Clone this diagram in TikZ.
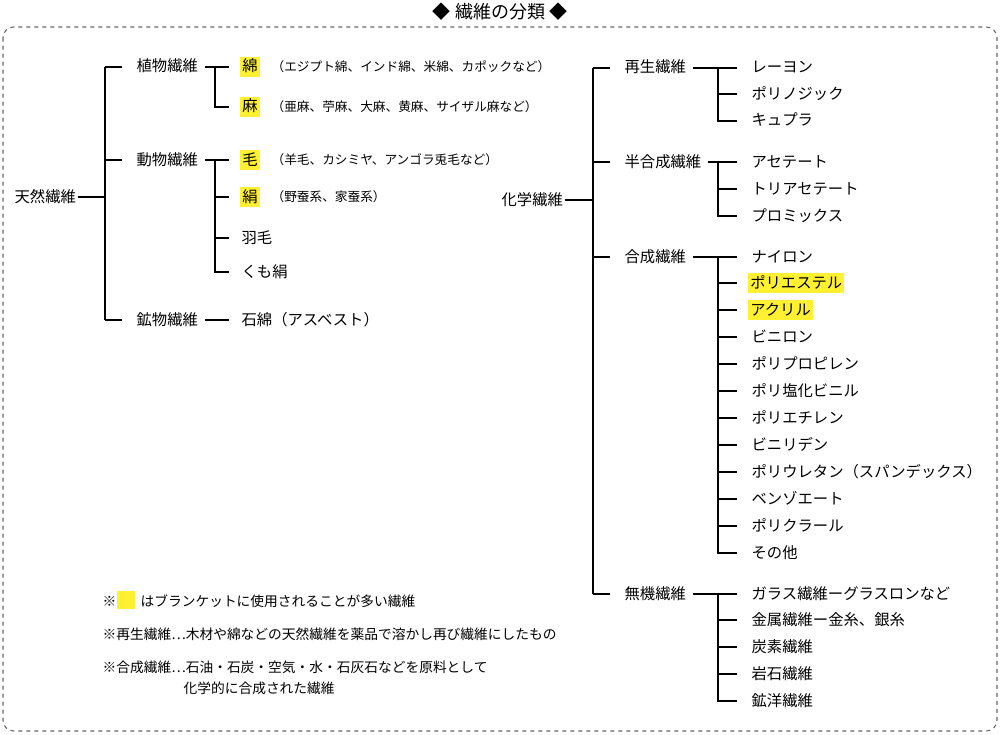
\documentclass[tikz,border=0pt]{standalone}
\usepackage{fontspec}
\setmainfont{Noto Sans CJK JP}
\begin{document}
\begin{tikzpicture}[x=0.75pt,y=-0.75pt,
  t/.style={anchor=west,inner sep=1pt,text height=9.5pt,text depth=2pt,font=\fontsize{11.5}{13}\selectfont},
  s/.style={anchor=west,inner sep=1pt,text height=8pt,text depth=1.5pt,font=\fontsize{9.5}{11}\selectfont},
  nt/.style={anchor=west,inner sep=1pt,font=\fontsize{10.3}{12}\selectfont},
  ln/.style={line width=0.9pt}]
\useasboundingbox (0,0) rectangle (1000,735);
\definecolor{hly}{RGB}{255,240,50}
\node[font=\fontsize{13.5}{15}\selectfont,inner sep=0] (title) at (500,12) {◆ 繊維の分類 ◆};
\draw[dashed,gray!80!black,rounded corners=8pt,line width=0.8pt] (3,27) rectangle (997,731);
% left
\node[t] (ten) at (13,197) {天然繊維};
\node[t] (sho) at (135,67) {植物繊維};
\node[t] (dou) at (135,160) {動物繊維};
\node[t] (kou) at (135,320) {鉱物繊維};
\draw[ln] (ten.east) -- (105,197);
\draw[ln] (105,67) -- (105,320);
\draw[ln] (105,67) -- ([xshift=-10]sho.west);
\draw[ln] (105,160) -- ([xshift=-10]dou.west);
\draw[ln] (105,320) -- ([xshift=-10]kou.west);
\node[t,fill=hly,inner sep=1.5pt] (men) at (240,67) {綿};
\node[s] at (270,67) {（エジプト綿、インド綿、米綿、カポックなど）};
\node[t,fill=hly,inner sep=1.5pt] (asa) at (240,107) {麻};
\node[s] at (270,107) {（亜麻、苧麻、大麻、黄麻、サイザル麻など）};
\node[t,fill=hly,inner sep=1.5pt] (ke) at (240,160) {毛};
\node[s] at (270,160) {（羊毛、カシミヤ、アンゴラ兎毛など）};
\node[t,fill=hly,inner sep=1.5pt] (kinu) at (240,197) {絹};
\node[s] at (270,197) {（野蚕系、家蚕系）};
\node[t] (hane) at (240,238) {羽毛};
\node[t] (kumo) at (240,272) {くも絹};
\node[t] (seki) at (240,320) {石綿（アスベスト）};
\draw[ln] ([xshift=4]sho.east) -- ([xshift=-8]men.west);
\draw[ln] (215,67) |- ([xshift=-8]asa.west);
\draw[ln] ([xshift=4]dou.east) -- ([xshift=-8]ke.west);
\draw[ln] (215,160) |- ([xshift=-8]kumo.west);
\draw[ln] (215,197) -- ([xshift=-8]kinu.west);
\draw[ln] (215,238) -- ([xshift=-8]hane.west);
\draw[ln] ([xshift=4]kou.east) -- ([xshift=-8]seki.west);
% right
\node[t] (kag) at (500,200) {化学繊維};
\node[t] (sai) at (623,68) {再生繊維};
\node[t] (han) at (623,162) {半合成繊維};
\node[t] (gou) at (623,257) {合成繊維};
\node[t] (muk) at (623,594) {無機繊維};
\draw[ln] (kag.east) -- (593,200);
\draw[ln] (593,68) -- (593,594);
\foreach \n in {sai,han,gou,muk} \draw[ln] (593,0|-\n.west) -- ([xshift=-10]\n.west);
\foreach \lab/\y/\nm in {レーヨン/68/a1,ポリノジック/94/a2,キュプラ/121/a3,
  アセテート/162/b1,トリアセテート/189/b2,プロミックス/216/b3,
  ナイロン/257/c1,ビニロン/337/c4,ポリプロピレン/364/c5,ポリ塩化ビニル/391/c6,ポリエチレン/418/c7,ビニリデン/445/c8,ポリウレタン（スパンデックス）/472/c9,ベンゾエート/499/c10,ポリクラール/526/c11,その他/553/c12,
  ガラス繊維ーグラスロンなど/594/d1,金属繊維ー金糸、銀糸/620/d2,炭素繊維/647/d3,岩石繊維/674/d4,鉱洋繊維/701/d5}
  \node[t] (\nm) at (750,\y) {\lab};
\node[t,fill=hly,inner sep=1.5pt] (c2) at (748,283) {ポリエステル};
\node[t,fill=hly,inner sep=1.5pt] (c3) at (748,310) {アクリル};
\draw[ln] ([xshift=4]sai.east) -- ([xshift=-10]a1.west);
\draw[ln] (718,68) |- ([xshift=-10]a3.west);
\draw[ln] (718,94) -- ([xshift=-10]a2.west);
\draw[ln] ([xshift=4]han.east) -- ([xshift=-10]b1.west);
\draw[ln] (718,162) |- ([xshift=-10]b3.west);
\draw[ln] (718,189) -- ([xshift=-10]b2.west);
\draw[ln] ([xshift=4]gou.east) -- ([xshift=-10]c1.west);
\draw[ln] (718,257) |- ([xshift=-10]c12.west);
\foreach \nm in {c4,c5,c6,c7,c8,c9,c10,c11} \draw[ln] (718,0|-\nm.west) -- ([xshift=-10]\nm.west);
\draw[ln] (718,283) -- ([xshift=-8]c2.west);
\draw[ln] (718,310) -- ([xshift=-8]c3.west);
\draw[ln] ([xshift=4]muk.east) -- ([xshift=-10]d1.west);
\draw[ln] (718,594) |- ([xshift=-10]d5.west);
\foreach \nm in {d2,d3,d4} \draw[ln] (718,0|-\nm.west) -- ([xshift=-10]\nm.west);
% notes
\node[nt] (n0) at (101,601) {※};
\node[fill=hly,minimum width=13.5pt,minimum height=14pt,inner sep=0] (sq) at (126,600) {};
\node[nt] (n1) at (139,601) {はブランケットに使用されることが多い繊維};
\node[nt] (n2) at (101,634) {※再生繊維…木材や綿などの天然繊維を薬品で溶かし再び繊維にしたもの};
\node[nt] (n3) at (101,667) {※合成繊維…石油・石炭・空気・水・石灰石などを原料として};
\node[nt] (n4) at (182,688) {化学的に合成された繊維};
\end{tikzpicture}
\end{document}
